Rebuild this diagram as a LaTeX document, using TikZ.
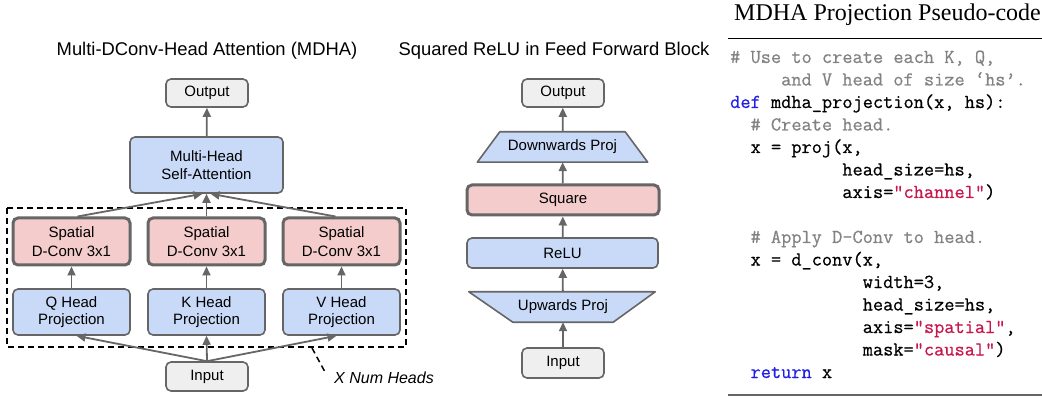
\documentclass[tikz,border=0pt]{standalone}
\usepackage{fontspec}
\setmainfont{Liberation Sans}
\newfontfamily\titleserif{Liberation Serif}
\newfontfamily\codefont{Latin Modern Mono}[FakeBold=0.6]
\usetikzlibrary{arrows.meta,backgrounds}
\definecolor{bordergray}{HTML}{666666}
\definecolor{fillblue}{HTML}{C9DAF8}
\definecolor{fillred}{HTML}{F4CCCC}
\definecolor{fillgray}{HTML}{EFEFEF}
\definecolor{cmtgray}{HTML}{828282}
\definecolor{kwblue}{HTML}{1F1FE6}
\definecolor{strred}{HTML}{C8174D}
\newcommand\codeind[1]{\hspace*{#1\fontcharwd\font`x}}
\newcommand\cmt[1]{\textcolor{cmtgray}{#1}}
\newcommand\kw[1]{\textcolor{kwblue}{#1}}
\newcommand\str[1]{\textcolor{strred}{#1}}
\tikzset{
  boxtext/.style={font=\fontsize{15}{17.5}\selectfont, align=center, text=black},
  box/.style={boxtext, draw=bordergray, line width=1.6pt, rounded corners=5pt, inner sep=0pt},
  graybox/.style={box, fill=fillgray},
  bluebox/.style={box, fill=fillblue},
  redbox/.style={box, fill=fillred, line width=3pt},
  tpztext/.style={boxtext, inner sep=0pt},
  tpzshape/.style={draw=bordergray, line width=1.6pt, fill=fillblue, line join=round},
  arr/.style={draw=bordergray, line width=1.8pt, -{Triangle[length=9pt,width=8pt]}},
  dashbox/.style={draw=black, line width=1.5pt, dash pattern=on 6pt off 4pt},
  title/.style={font=\fontsize{18.4}{22}\selectfont, anchor=base},
  codeline/.style={font=\codefont\fontsize{19.8}{22.5}\selectfont, anchor=base west, inner sep=0pt},
}
\begin{document}
\begin{tikzpicture}[x=1pt,y=-1pt]
\useasboundingbox (0,0) rectangle (1042,398);
% titles
\node[title] (t1) at (207,56) {Multi-DConv-Head Attention (MDHA)};
\node[title] (t2) at (554,56) {Squared ReLU in Feed Forward Block};
\node[font=\titleserif\fontsize{24}{28}\selectfont, anchor=base] (t3) at (887.5,21) {MDHA Projection Pseudo-code};

% ---- MDHA ----
\draw[dashbox] (7,208) rectangle (406,347);
\node[graybox, minimum width=82, minimum height=28] (out1) at (207,93) {Output};
\node[bluebox, minimum width=153, minimum height=56] (mhsa) at (206.5,165) {Multi-Head\\Self-Attention};
\node[redbox, minimum width=117, minimum height=47, font=\fontsize{15}{19}\selectfont] (sq) at (71.5,241.5) {Spatial\\D-Conv 3x1};
\node[redbox, minimum width=117, minimum height=47, font=\fontsize{15}{19}\selectfont] (sk) at (206.5,241.5) {Spatial\\D-Conv 3x1};
\node[redbox, minimum width=117, minimum height=47, font=\fontsize{15}{19}\selectfont] (sv) at (341.5,241.5) {Spatial\\D-Conv 3x1};
\node[bluebox, minimum width=117, minimum height=46] (pq) at (71.5,312) {Q Head\\Projection};
\node[bluebox, minimum width=117, minimum height=46] (pk) at (206.5,312) {K Head\\Projection};
\node[bluebox, minimum width=117, minimum height=46] (pv) at (341.5,312) {V Head\\Projection};
\node[graybox, minimum width=82, minimum height=29] (in1) at (207,376.5) {Input};

\draw[arr] (mhsa) -- (out1);
\draw[arr] ([xshift=6pt]sq.north) -- ([xshift=-4pt]mhsa.south);
\draw[arr] (sk.north) -- (mhsa.south);
\draw[arr] ([xshift=-6pt]sv.north) -- ([xshift=4pt]mhsa.south);
\draw[arr] (pq) -- (sq);
\draw[arr] (pk) -- (sk);
\draw[arr] (pv) -- (sv);
\draw[arr] (in1.north) -- ([xshift=5pt]pq.south);
\draw[arr] (in1.north) -- (pk.south);
\draw[arr] (in1.north) -- ([xshift=-5pt]pv.south);

\coordinate (lead1) at (312,348);
\coordinate (lead2) at (325,372);
\draw[dashbox] (lead1) -- (lead2);
\node[font=\fontsize{16}{18}\selectfont\itshape, anchor=west, inner sep=0pt] (numheads) at (334,378) {X Num Heads};

% ---- Squared ReLU ----
\node[graybox, minimum width=82, minimum height=28] (out2) at (563,93) {Output};
\node[tpztext, minimum width=125, minimum height=30] (down) at (562.5,147) {Downwards Proj};
\node[redbox, minimum width=192, minimum height=30] (square) at (563,200) {Square};
\node[bluebox, minimum width=191, minimum height=30] (relu) at (562.5,253) {ReLU};
\node[tpztext, minimum width=100, minimum height=30] (up) at (563,307) {Upwards Proj};
\node[graybox, minimum width=82, minimum height=30] (in2) at (563,363) {Input};
\begin{scope}[on background layer]
  \draw[tpzshape] (down.north west) -- (down.north east) -- ([xshift=22.5pt]down.south east) -- ([xshift=-22.5pt]down.south west) -- cycle;
  \draw[tpzshape] ([xshift=-44pt]up.north west) -- ([xshift=42pt]up.north east) -- (up.south east) -- (up.south west) -- cycle;
\end{scope}

\draw[arr] (in2) -- (up);
\draw[arr] (up) -- (relu);
\draw[arr] (relu) -- (square);
\draw[arr] (square) -- (down);
\draw[arr] (down) -- (out2);

% ---- Pseudo-code ----
\coordinate (r1a) at (728,39);
\coordinate (r1b) at (1042,39);
\draw[line width=1pt, black] (r1a) -- (r1b);
\node[codeline] (c1) at (730,63) {\cmt{\# Use to create each K, Q,}};
\node[codeline] (c2) at (730,85.5) {\codeind{5}\cmt{and V head of size ‘hs’.}};
\node[codeline] (c3) at (730,108) {\kw{def} mdha\_projection(x, hs):};
\node[codeline] (c4) at (730,130.5) {\codeind{2}\cmt{\# Create head.}};
\node[codeline] (c5) at (730,153) {\codeind{2}x = proj(x,};
\node[codeline] (c6) at (730,175.5) {\codeind{11}head\_size=hs,};
\node[codeline] (c7) at (730,198) {\codeind{11}axis=\str{"channel"})};
\node[codeline] (c8) at (730,243) {\codeind{2}\cmt{\# Apply D-Conv to head.}};
\node[codeline] (c9) at (730,265.5) {\codeind{2}x = d\_conv(x,};
\node[codeline] (c10) at (730,288) {\codeind{13}width=3,};
\node[codeline] (c11) at (730,310.5) {\codeind{13}head\_size=hs,};
\node[codeline] (c12) at (730,333) {\codeind{13}axis=\str{"spatial"},};
\node[codeline] (c13) at (730,355.5) {\codeind{13}mask=\str{"causal"})};
\node[codeline] (c14) at (730,378) {\codeind{2}\kw{return} x};
\coordinate (r2a) at (728,395);
\coordinate (r2b) at (1042,395);
\draw[line width=2pt, bordergray] (r2a) -- (r2b);
\end{tikzpicture}
\end{document}
